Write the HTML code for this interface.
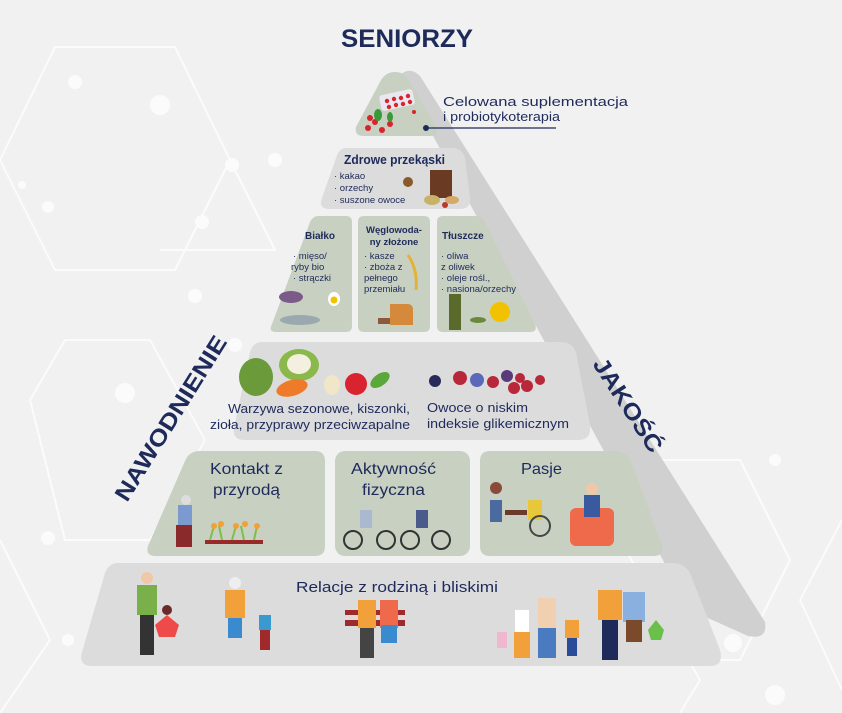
<!DOCTYPE html>
<html><head><meta charset="utf-8"><style>
html,body{margin:0;padding:0;background:#f1f1f1;}
svg{display:block;font-family:"Liberation Sans",sans-serif;}
.t{fill:#1d2a5a;}
</style></head><body>
<svg width="842" height="713" viewBox="0 0 842 713" xmlns="http://www.w3.org/2000/svg">
<rect width="842" height="713" fill="#f1f1f1"/>
<g stroke="#fbfbfb" stroke-width="2" fill="none">
<path d="M0,160 L55,47 L175,47 L230,160 L175,270 L55,270 Z"/>
<path d="M30,400 L65,340 L150,340 L205,440 L150,540 L65,540 Z"/>
<path d="M0,540 L50,640 L0,713"/>
<path d="M660,460 L740,460 L790,560 L740,660 L660,660"/>
<path d="M842,520 L800,600 L842,690"/>
<path d="M230,160 L275,250 L160,250"/>
<path d="M620,540 L700,680 L680,713"/>
</g>
<g fill="#fbfbfb">
<circle cx="75" cy="82" r="7"/><circle cx="160" cy="105" r="10"/><circle cx="232" cy="165" r="7"/><circle cx="275" cy="160" r="7"/><circle cx="22" cy="185" r="4"/><circle cx="48" cy="207" r="6"/><circle cx="202" cy="222" r="7"/><circle cx="195" cy="296" r="7"/><circle cx="125" cy="393" r="10"/><circle cx="48" cy="538" r="7"/><circle cx="68" cy="640" r="6"/><circle cx="733" cy="643" r="9"/><circle cx="775" cy="460" r="6"/><circle cx="775" cy="695" r="10"/><circle cx="235" cy="345" r="7"/>
</g>
<path d="M400,75 Q410,66 420,76 L765,622 Q768,640 748,636 L690,610 Z" fill="#d0d0d0"/>
<path d="M395,72 Q385,72 380,82 L356,127 Q354,136 364,136 L430,136 Q440,136 436,127 L410,82 Q405,72 395,72 Z" fill="#c8d0c2"/>
<rect x="380" y="92" width="34" height="16" rx="3" fill="#e8e8ee" transform="rotate(-12 397 100)"/>
<g fill="#d9232e"><circle cx="387" cy="101" r="2.2"/><circle cx="394" cy="99" r="2.2"/><circle cx="401" cy="98" r="2.2"/><circle cx="408" cy="96" r="2.2"/><circle cx="389" cy="107" r="2.2"/><circle cx="396" cy="105" r="2.2"/><circle cx="403" cy="104" r="2.2"/><circle cx="410" cy="102" r="2.2"/><circle cx="368" cy="128" r="3"/><circle cx="375" cy="122" r="3"/><circle cx="382" cy="130" r="3"/><circle cx="390" cy="124" r="3"/><circle cx="370" cy="118" r="3"/><circle cx="414" cy="112" r="2"/></g>
<g fill="#3a9a3a"><ellipse cx="378" cy="115" rx="4" ry="6"/><ellipse cx="390" cy="117" rx="3" ry="5"/></g>
<circle cx="426" cy="128" r="3" fill="#1d2a5a"/>
<line x1="426" y1="128" x2="556" y2="128" stroke="#1d2a5a" stroke-width="1.3"/>
<text x="443" y="106" class="t" font-size="13" textLength="185" lengthAdjust="spacingAndGlyphs">Celowana suplementacja</text>
<text x="443" y="121" class="t" font-size="13" textLength="117" lengthAdjust="spacingAndGlyphs">i probiotykoterapia</text>
<path d="M346,148 L452,148 Q462,148 465,158 L470,198 Q471,209 460,209 L330,209 Q318,209 322,198 L336,158 Q339,148 346,148 Z" fill="#dcdcdc"/>
<text x="344" y="164" class="t" font-size="13" font-weight="bold" textLength="101" lengthAdjust="spacingAndGlyphs">Zdrowe przekąski</text>
<text x="334" y="179" class="t" font-size="9.5">· kakao</text>
<text x="334" y="191" class="t" font-size="9.5">· orzechy</text>
<text x="334" y="203" class="t" font-size="9.5">· suszone owoce</text>
<rect x="430" y="170" width="22" height="28" fill="#6b3a22"/>
<circle cx="408" cy="182" r="5" fill="#8a5a2a"/><ellipse cx="432" cy="200" rx="8" ry="5" fill="#c8b26a"/><ellipse cx="452" cy="200" rx="7" ry="4" fill="#d6a86a"/><circle cx="445" cy="205" r="3" fill="#b83a2a"/>
<path d="M318,216 L346,216 Q352,216 352,222 L352,326 Q352,332 346,332 L276,332 Q268,332 272,324 L310,222 Q313,216 318,216 Z" fill="#c8d0c2"/>
<path d="M364,216 L424,216 Q430,216 430,222 L430,326 Q430,332 424,332 L364,332 Q358,332 358,326 L358,222 Q358,216 364,216 Z" fill="#c8d0c2"/>
<path d="M443,216 L476,216 Q482,216 485,222 L535,324 Q538,332 530,332 L443,332 Q437,332 437,326 L437,222 Q437,216 443,216 Z" fill="#c8d0c2"/>
<text x="320" y="239" text-anchor="middle" class="t" font-size="10" font-weight="bold">Białko</text>
<text x="293" y="259" class="t" font-size="9.5">· mięso/</text>
<text x="291" y="270" class="t" font-size="9.5">ryby bio</text>
<text x="293" y="281" class="t" font-size="9.5">· strączki</text>
<text x="394" y="233" text-anchor="middle" class="t" font-size="9.5" font-weight="bold">Węglowoda-</text>
<text x="394" y="245" text-anchor="middle" class="t" font-size="9.5" font-weight="bold">ny złożone</text>
<text x="364" y="259" class="t" font-size="9.5">· kasze</text>
<text x="364" y="270" class="t" font-size="9.5">· zboża z</text>
<text x="364" y="281" class="t" font-size="9.5">pełnego</text>
<text x="364" y="292" class="t" font-size="9.5">przemiału</text>
<text x="442" y="239" class="t" font-size="10" font-weight="bold">Tłuszcze</text>
<text x="441" y="259" class="t" font-size="9.5">· oliwa</text>
<text x="441" y="270" class="t" font-size="9.5">z oliwek</text>
<text x="441" y="281" class="t" font-size="9.5">· oleje rośl.,</text>
<text x="441" y="292" class="t" font-size="9.5">· nasiona/orzechy</text>
<ellipse cx="291" cy="297" rx="12" ry="6" fill="#7b5a8a"/><ellipse cx="334" cy="299" rx="6" ry="7" fill="#fff"/><circle cx="334" cy="300" r="3.5" fill="#f2c200"/>
<ellipse cx="300" cy="320" rx="20" ry="5" fill="#9aa8b0"/>
<path d="M390,304 h18 a5,5 0 0 1 5,5 v16 h-23 z" fill="#d48a3a"/><rect x="378" y="318" width="12" height="6" fill="#8a5a3a"/>
<path d="M408,255 q10,15 8,35" stroke="#e2b23a" stroke-width="3" fill="none"/>
<rect x="449" y="294" width="12" height="36" fill="#5a6a2a"/><circle cx="500" cy="312" r="10" fill="#f2c200"/><ellipse cx="478" cy="320" rx="8" ry="3" fill="#6a8a3a"/>
<path d="M262,342 L560,342 Q572,342 576,352 L590,425 Q592,440 578,440 L245,440 Q232,440 234,428 L250,352 Q253,342 262,342 Z" fill="#dcdcdc"/>
<ellipse cx="256" cy="377" rx="17" ry="19" fill="#6a9a3a"/>
<ellipse cx="299" cy="365" rx="20" ry="16" fill="#8ab84a"/><ellipse cx="299" cy="364" rx="12" ry="10" fill="#f4f0e0"/>
<ellipse cx="292" cy="388" rx="16" ry="8" fill="#ef7a2a" transform="rotate(-15 292 388)"/>
<ellipse cx="332" cy="385" rx="8" ry="10" fill="#f0e6c8"/>
<circle cx="356" cy="384" r="11" fill="#d9232e"/>
<ellipse cx="380" cy="380" rx="11" ry="6" fill="#5aa83a" transform="rotate(-35 380 380)"/>
<g fill="#b8283a"><circle cx="435" cy="381" r="6" fill="#2a2a5a"/><circle cx="460" cy="378" r="7"/><circle cx="477" cy="380" r="7" fill="#5a6ab8"/><circle cx="493" cy="382" r="6"/><circle cx="507" cy="376" r="6" fill="#5a3a7a"/><circle cx="514" cy="388" r="6"/><circle cx="527" cy="386" r="6"/><circle cx="540" cy="380" r="5"/><circle cx="520" cy="378" r="5"/></g>
<text x="228" y="413" class="t" font-size="13" textLength="182" lengthAdjust="spacingAndGlyphs">Warzywa sezonowe, kiszonki,</text>
<text x="210" y="429" class="t" font-size="13" textLength="200" lengthAdjust="spacingAndGlyphs">zioła, przyprawy przeciwzapalne</text>
<text x="427" y="412" class="t" font-size="13" textLength="101" lengthAdjust="spacingAndGlyphs">Owoce o niskim</text>
<text x="427" y="428" class="t" font-size="13" textLength="142" lengthAdjust="spacingAndGlyphs">indeksie glikemicznym</text>
<path d="M200,451 L315,451 Q325,451 325,461 L325,546 Q325,556 315,556 L156,556 Q145,556 148,546 L185,461 Q189,451 200,451 Z" fill="#c8d0c2"/>
<rect x="335" y="451" width="135" height="105" rx="10" fill="#c8d0c2"/>
<path d="M490,451 L615,451 Q626,451 631,461 L662,546 Q664,556 654,556 L490,556 Q480,556 480,546 L480,461 Q480,451 490,451 Z" fill="#c8d0c2"/>
<text x="210" y="474" class="t" font-size="16" textLength="73" lengthAdjust="spacingAndGlyphs">Kontakt z</text>
<text x="213" y="495" class="t" font-size="16" textLength="67" lengthAdjust="spacingAndGlyphs">przyrodą</text>
<text x="351" y="474" class="t" font-size="16" textLength="85" lengthAdjust="spacingAndGlyphs">Aktywność</text>
<text x="362" y="495" class="t" font-size="16" textLength="63" lengthAdjust="spacingAndGlyphs">fizyczna</text>
<text x="521" y="474" class="t" font-size="16" textLength="41" lengthAdjust="spacingAndGlyphs">Pasje</text>
<rect x="178" y="505" width="14" height="20" fill="#7a9ad0"/><rect x="176" y="525" width="16" height="22" fill="#8a2a2a"/><circle cx="186" cy="500" r="5" fill="#ddd"/>
<rect x="205" y="540" width="58" height="4" fill="#9a2a2a"/><g stroke="#7ac04a" stroke-width="2"><path d="M210,540 l4,-14 M222,540 l-3,-14 M232,540 l4,-14 M244,540 l-3,-14 M254,540 l3,-14"/></g>
<g fill="#f2a03a"><circle cx="214" cy="526" r="3"/><circle cx="221" cy="524" r="3"/><circle cx="236" cy="526" r="3"/><circle cx="245" cy="524" r="3"/><circle cx="257" cy="526" r="3"/></g>
<g stroke="#333" stroke-width="2" fill="none"><circle cx="353" cy="540" r="9"/><circle cx="386" cy="540" r="9"/><circle cx="410" cy="540" r="9"/><circle cx="441" cy="540" r="9"/></g>
<rect x="360" y="510" width="12" height="18" fill="#aab8d0"/><rect x="416" y="510" width="12" height="18" fill="#4a5a8a"/>
<rect x="490" y="500" width="12" height="22" fill="#4a6aa0"/><circle cx="496" cy="488" r="6" fill="#8a4a3a"/><rect x="505" y="510" width="22" height="5" fill="#6a3a2a"/><rect x="528" y="500" width="14" height="20" fill="#e8c83a"/><circle cx="540" cy="526" r="10" fill="none" stroke="#444" stroke-width="2"/>
<rect x="570" y="508" width="44" height="38" rx="6" fill="#ef6a4a"/><rect x="584" y="495" width="16" height="22" fill="#3a5aa0"/><circle cx="592" cy="489" r="6" fill="#f0c8a8"/>
<path d="M118,563 L672,563 Q684,563 690,573 L720,650 Q724,666 710,666 L92,666 Q78,666 82,652 L105,573 Q109,563 118,563 Z" fill="#dcdcdc"/>
<text x="296" y="592" class="t" font-size="15" textLength="202" lengthAdjust="spacingAndGlyphs">Relacje z rodziną i bliskimi</text>
<g>
<rect x="137" y="585" width="20" height="30" fill="#7ab04a"/><rect x="140" y="615" width="14" height="40" fill="#333"/><circle cx="147" cy="578" r="6" fill="#f0c8a8"/>
<path d="M155,625 l12,-10 l12,10 l-4,12 h-16 z" fill="#ef4a4a"/><circle cx="167" cy="610" r="5" fill="#6a2a2a"/>
<rect x="225" y="590" width="20" height="28" fill="#f2a03a"/><rect x="228" y="618" width="14" height="20" fill="#3a8ad0"/><circle cx="235" cy="583" r="6" fill="#eee"/>
<rect x="259" y="615" width="12" height="15" fill="#3a9ad0"/><rect x="260" y="630" width="10" height="20" fill="#a02a2a"/>
<rect x="345" y="620" width="60" height="6" fill="#a02a2a"/><rect x="345" y="610" width="60" height="5" fill="#a02a2a"/><rect x="358" y="600" width="18" height="28" fill="#f2a03a"/><rect x="380" y="600" width="18" height="28" fill="#ef6a4a"/><rect x="381" y="625" width="16" height="18" fill="#3a8ad0"/><rect x="360" y="628" width="14" height="30" fill="#444"/>
<rect x="515" y="610" width="14" height="22" fill="#fff"/><rect x="514" y="632" width="16" height="26" fill="#f2a03a"/>
<rect x="538" y="598" width="18" height="30" fill="#f0d0b0"/><rect x="538" y="628" width="18" height="30" fill="#4a7ac0"/>
<rect x="565" y="620" width="14" height="18" fill="#f2a03a"/><rect x="567" y="638" width="10" height="18" fill="#2a4a9a"/>
<rect x="598" y="590" width="24" height="30" fill="#f2a03a"/><rect x="602" y="620" width="16" height="40" fill="#1d2a5a"/>
<rect x="623" y="592" width="22" height="30" fill="#8ab0e0"/><rect x="626" y="620" width="16" height="22" fill="#7a4a2a"/>
<path d="M648,630 l8,-10 l8,10 l-3,10 h-10 z" fill="#6ac04a"/><rect x="497" y="632" width="10" height="16" fill="#f0b8d0"/>
</g>
<text x="0" y="0" class="t" font-size="23" font-weight="bold" textLength="190" lengthAdjust="spacingAndGlyphs" transform="translate(127,503) rotate(-58)">NAWODNIENIE</text>
<text x="0" y="0" class="t" font-size="23" font-weight="bold" textLength="108" lengthAdjust="spacingAndGlyphs" transform="translate(592,364) rotate(57)">JAKOŚĆ</text>
<text x="341" y="47" class="t" font-size="25" font-weight="bold" textLength="132" lengthAdjust="spacingAndGlyphs">SENIORZY</text>
</svg>
</body></html>
